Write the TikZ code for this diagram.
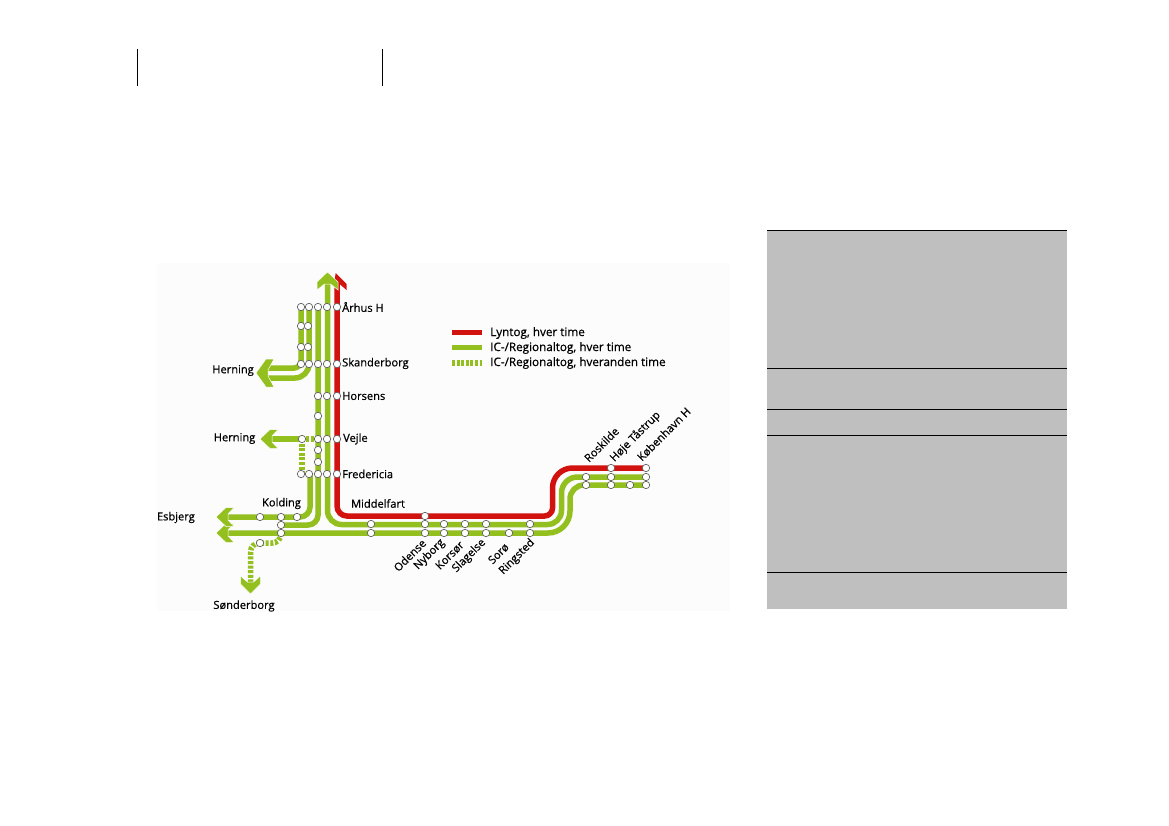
\documentclass[tikz,border=0pt]{standalone}
\usepackage{fontspec}
\setmainfont[FakeBold=0.6]{Open Sans}
\definecolor{railred}{HTML}{D2120F}
\definecolor{railgreen}{HTML}{93C01F}
\definecolor{panelgray}{HTML}{BFBFBF}
\tikzset{
    redline/.style={draw=railred, line width=5.5pt},
    greenline/.style={draw=railgreen, line width=5.5pt},
    greendash/.style={draw=railgreen, line width=5.5pt, dash pattern=on 3pt off 1.6pt},
    station/.style={circle, draw=black!60, fill=white, line width=0.7pt, inner sep=0pt, minimum size=7.4pt},
    place/.style={font=\fontsize{11.1}{13}\selectfont, inner sep=0pt},
    keytext/.style={font=\fontsize{11.7}{13}\selectfont, inner sep=0pt, anchor=west},
    slanted/.style={place, rotate=45},
    rule/.style={draw=black, line width=1pt}
}
% arrow head pointing right, turned and moved by the options
\newcommand{\railhead}[3]{\fill[railgreen, draw=white, line width=0.5pt, shift={(#1)}, rotate=#2] (0,0) -- (-10,#3) -- (-18,#3) -- (-12,3) -- (-12,-3) -- (-18,-#3) -- (-10,-#3) -- cycle;}
\begin{document}
\begin{tikzpicture}[x=1pt,y=-1pt]
    \useasboundingbox (0,0) rectangle (1169,826);
    \fill[black!1] (157,263) rectangle (730,611);
    % corner marks
    \draw[black, line width=1.2pt] (137.5,49) -- (137.5,86);
    \draw[black, line width=1.2pt] (382.5,49) -- (382.5,86);
    % grey panel
    \fill[panelgray] (767,231) rectangle (1067,609);
    \foreach \y in {231,368.5,409,435.5,572} \draw[rule] (767,\y) -- (1067,\y);
    % red line
    \fill[railred] (335.7,273) -- (346.5,284) -- (346.5,290) -- (339.5,284) -- (334,284) -- cycle;
    \draw[redline] (337,283) [rounded corners=10] -- (337,516) [rounded corners=8] -- (552.5,516) [rounded corners=20] -- (552.5,468) -- (646,468);
    % green lines
    \draw[greenline] (327.5,282) [rounded corners=14] -- (327.5,524.5) -- (561.5,524.5) [rounded corners=16] -- (561.5,477) -- (646,477);
    \railhead{327.5,272}{90}{10.5}
    \draw[greenline] (227,533) [rounded corners=22] -- (570,533) [rounded corners=14] -- (570,485) -- (646,485);
    \draw[greenline] (318,307) [rounded corners=10] -- (318,525) -- (281,525);
    \draw[greenline] (310,474) [rounded corners=10] -- (310,517) -- (227,517);
    \railhead{216,533}{180}{9.5}
    \railhead{216,517}{180}{9.5}
    \draw[greenline] (301,307) [rounded corners=7] -- (301,368) -- (265,368);
    \draw[greenline] (309,307) [rounded corners=14] -- (309,378) -- (265,378);
    \railhead{256,373}{180}{14}
    \draw[greenline] (271,439) -- (297,439);
    \draw[greendash] (297,439) -- (318,439);
    \draw[greendash] (302,439) -- (302,474);
    \railhead{260,439}{180}{9.5}
    \draw[greendash] (281,533) [rounded corners=9] -- (281,543) -- (250.5,543) -- (250.5,583);
    \railhead{250.5,594}{-90}{10}
    % stations
    \foreach \x in {301,309,318,327,337} {
        \node[station] (north\x) at (\x,307) {};
        \node[station] (skand\x) at (\x,364) {};
        \node[station] (fred\x) at (\x,474) {};
    }
    \foreach \y in {326,347} {
        \node[station] (west\y) at (301,\y) {};
        \node[station] (east\y) at (308,\y) {};
    }
    \foreach \x in {318,327,337} \node[station] (hors\x) at (\x,396) {};
    \foreach \x in {302,318,327,337} \node[station] (vejle\x) at (\x,439) {};
    \foreach \y in {416,450,462} \node[station] (mid\y) at (318,\y) {};
    \foreach \x in {260,281,297} \node[station] (kold\x) at (\x,517) {};
    \node[station] (kolda) at (281,525) {};
    \node[station] (koldb) at (281,533) {};
    \node[station] (sond) at (260,543) {};
    \foreach \x in {371,425,444,465,486,530} {
        \node[station] (upper\x) at (\x,524) {};
        \node[station] (lower\x) at (\x,533) {};
    }
    \node[station] (odense) at (425,516) {};
    \node[station] (soroe) at (509,533) {};
    \foreach \x in {586,611,646} {
        \node[station] (rtwo\x) at (\x,477) {};
        \node[station] (rthree\x) at (\x,485) {};
    }
    \node[station] (rthree) at (630,485) {};
    \node[station] (rone) at (611,468) {};
    \node[station] (rend) at (646,468) {};
    % place names
    \node[place, anchor=west] (aarhus) at (342,307) {Århus H};
    \node[place, anchor=west] (skanderborg) at (342,363.5) {Skanderborg};
    \node[place, anchor=west] (horsens) at (342,396) {Horsens};
    \node[place, anchor=west] (vejle) at (343,439) {Vejle};
    \node[place, anchor=west] (fredericia) at (342,474) {Fredericia};
    \node[place, anchor=east] (herninga) at (254,370.5) {Herning};
    \node[place, anchor=east] (herningb) at (255.5,438.5) {Herning};
    \node[place, anchor=east] (esbjerg) at (195,517.5) {Esbjerg};
    \node[place] (kolding) at (281.5,503.5) {Kolding};
    \node[place] (middelfart) at (378,503.5) {Middelfart};
    \node[place] (sonderborg) at (244,606) {Sønderborg};
    \node[slanted, anchor=east] (odensel) at (424,541) {Odense};
    \node[slanted, anchor=east] (nyborg) at (443,541) {Nyborg};
    \node[slanted, anchor=east] (korsor) at (462,543) {Korsør};
    \node[slanted, anchor=east] (slagelse) at (484,541) {Slagelse};
    \node[slanted, anchor=east] (soro) at (507,545) {Sorø};
    \node[slanted, anchor=east] (ringsted) at (533,541) {Ringsted};
    \node[slanted, anchor=west] (roskilde) at (586,460) {Roskilde};
    \node[slanted, anchor=west] (hoeje) at (612,460) {Høje Tåstrup};
    \node[slanted, anchor=west] (koebenhavn) at (639,459) {København H};
    % legend
    \coordinate (keya) at (452,332.5);
    \coordinate (keyb) at (452,347.5);
    \coordinate (keyc) at (452,363);
    \draw[redline] (keya) -- ++(30,0);
    \draw[greenline] (keyb) -- ++(30,0);
    \draw[greendash] (keyc) -- ++(30,0);
    \node[keytext] (keytexta) at (490,333) {Lyntog, hver time};
    \node[keytext] (keytextb) at (490,348) {IC-/Regionaltog, hver time};
    \node[keytext] (keytextc) at (490,363) {IC-/Regionaltog, hveranden time};
\end{tikzpicture}
\end{document}
